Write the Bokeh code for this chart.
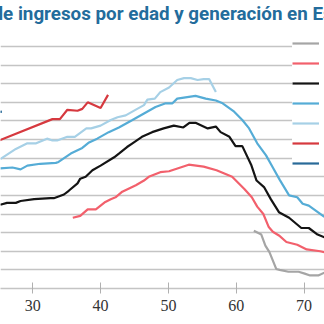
from bokeh.plotting import figure
from bokeh.models import Range1d, FixedTicker, Title, Legend, LegendItem
from bokeh.embed import file_html
from bokeh.resources import INLINE

# ---- data (ingresos, miles de euros) ----
gen_labels = ["1930-1939", "1940-1949", "1950-1959", "1960-1969",
              "1970-1979", "1980-1989", "1990-1999"]

gray_age = [62.6, 63.7, 64.3, 64.9, 65.9, 66.4, 67.7, 69.2, 70.1, 70.9, 72.1, 73.0]
gray_val = [6.2, 5.8, 4.6, 3.9, 2.1, 2.0, 1.8, 1.8, 1.6, 1.4, 1.4, 1.7]

pink_age = [35.9, 37.0, 38.1, 39.3, 40.7, 41.5, 42.2, 43.2, 45.2, 46.4, 47.1, 48.8,
            50.1, 53.0, 55.2, 57.1, 59.4, 61.2, 62.3, 63.1, 64.0, 64.8, 65.4, 66.3,
            67.4, 69.0, 70.4, 72.4, 73.0]
pink_val = [7.6, 7.8, 8.5, 8.5, 9.3, 9.6, 9.8, 10.4, 11.1, 11.6, 12.0, 12.5,
            12.6, 13.3, 13.1, 12.7, 12.0, 10.7, 9.8, 8.8, 8.0, 6.6, 6.1, 5.7,
            5.0, 4.7, 4.2, 4.0, 3.9]

black_age = [25.2, 26.2, 27.5, 28.2, 30.2, 32.6, 33.1, 34.6, 35.3, 36.6, 37.0, 37.8,
             38.8, 40.0, 42.0, 42.7, 43.9, 44.7, 46.1, 47.6, 49.3, 50.8, 52.2, 53.1,
             54.0, 55.8, 57.0, 57.7, 59.0, 59.9, 60.9, 62.2, 63.0, 64.1, 65.1, 66.3,
             67.8, 69.6, 70.7, 72.0, 73.0]
black_val = [9.0, 9.2, 9.2, 9.4, 9.6, 9.7, 9.7, 10.1, 10.5, 11.3, 11.8, 12.0,
             12.7, 13.2, 14.1, 14.5, 15.2, 15.6, 16.3, 16.8, 17.2, 17.5, 17.3, 17.8,
             17.8, 17.2, 17.4, 16.8, 16.3, 15.3, 15.3, 13.3, 11.6, 10.9, 9.6, 8.2,
             7.6, 6.5, 6.5, 5.8, 5.5]

mblue_age = [25.2, 27.0, 28.2, 29.2, 31.1, 33.4, 33.8, 35.6, 37.3, 38.3, 39.5, 41.2,
             42.7, 44.7, 46.4, 48.1, 49.6, 50.6, 51.3, 54.0, 55.5, 57.0, 58.0, 59.7,
             60.9, 61.9, 63.1, 64.4, 65.4, 66.4, 67.8, 69.0, 69.8, 70.7, 73.0]
mblue_val = [12.9, 13.0, 12.8, 13.2, 13.4, 13.5, 13.6, 14.5, 15.1, 15.7, 16.1, 16.8,
             17.3, 18.1, 18.8, 19.5, 19.9, 19.9, 20.4, 20.7, 20.4, 20.2, 19.9, 19.0,
             18.1, 17.2, 15.6, 14.3, 13.0, 11.7, 10.0, 9.8, 9.1, 8.9, 7.7]

lblue_age = [25.2, 27.5, 29.2, 30.5, 32.1, 32.9, 33.6, 35.1, 36.2, 37.9, 38.6, 40.0,
             41.5, 42.5, 43.7, 45.4, 46.4, 46.9, 48.0, 48.8, 50.1, 51.3, 52.3, 53.3,
             54.3, 55.2, 56.0, 57.0]
lblue_val = [13.9, 15.0, 15.6, 15.6, 16.1, 15.9, 15.9, 16.3, 16.3, 17.2, 17.2, 17.5,
             18.1, 18.4, 18.6, 19.3, 19.7, 20.3, 20.4, 21.1, 21.6, 22.4, 22.6, 22.6,
             22.4, 22.5, 22.5, 21.1]

red_age = [25.0, 32.9, 34.0, 35.1, 36.6, 37.3, 38.1, 40.0, 41.1]
red_val = [15.9, 18.2, 18.2, 19.2, 19.1, 19.3, 20.0, 19.4, 20.8]

dblue_age = [24.5, 25.45]
dblue_val = [18.9, 19.0]

x_ticks = [20, 30, 40, 50, 60, 70]
y_grid = list(range(0, 27, 2))

series = [
    (gray_age, gray_val, "#a5a5a5"),
    (pink_age, pink_val, "#f2606c"),
    (black_age, black_val, "#141414"),
    (mblue_age, mblue_val, "#55acd6"),
    (lblue_age, lblue_val, "#a6d0e6"),
    (red_age, red_val, "#d6393f"),
    (dblue_age, dblue_val, "#296a98"),
]

p = figure(width=324, height=324, output_backend="svg", toolbar_location=None,
           x_range=Range1d(25.24, 73.02), y_range=Range1d(0, 28.15),
           min_border_left=0, min_border_right=0, min_border_top=26,
           min_border_bottom=36)
p.outline_line_color = None
p.background_fill_color = "white"
p.border_fill_color = "white"

p.yaxis.visible = False
p.xgrid.visible = False
p.ygrid.ticker = FixedTicker(ticks=y_grid)
p.ygrid.grid_line_color = "#c4c4c4"
p.ygrid.grid_line_width = 1.5

xa = p.xaxis[0]
xa.ticker = FixedTicker(ticks=x_ticks)
xa.axis_line_color = "#c4c4c4"
xa.axis_line_width = 1.5
xa.major_tick_line_color = "#b0b0b0"
xa.major_tick_in = 6
xa.major_tick_out = 5
xa.minor_tick_line_color = None
xa.major_label_text_font = "Liberation Sans Narrow"
xa.major_label_text_font_size = "16px"
xa.major_label_text_color = "#333333"
xa.major_label_standoff = 6

items = []
for (ax, ay, col), lab in zip(series, gen_labels):
    r = p.line(ax, ay, line_color=col, line_width=2.2)
    items.append(LegendItem(label=lab, renderers=[r]))

leg = Legend(items=items, location=(292, 115), glyph_width=27, glyph_height=20,
             label_height=20, spacing=0, padding=2, margin=0, label_standoff=6,
             border_line_color=None, background_fill_color="white",
             background_fill_alpha=1.0, label_text_font_size="14px",
             label_text_font="Roboto", label_text_color="#333333")
p.add_layout(leg, "center")

t = Title(text="de ingresos por edad y generación en España", align="left",
          offset=-8, text_font="Roboto", text_font_size="18.8px",
          text_font_style="bold", text_color="#236c9c", standoff=0,
          vertical_align="top", text_baseline="hanging")
p.add_layout(t, "above")

open("out.html", "w").write(file_html(p, INLINE))
